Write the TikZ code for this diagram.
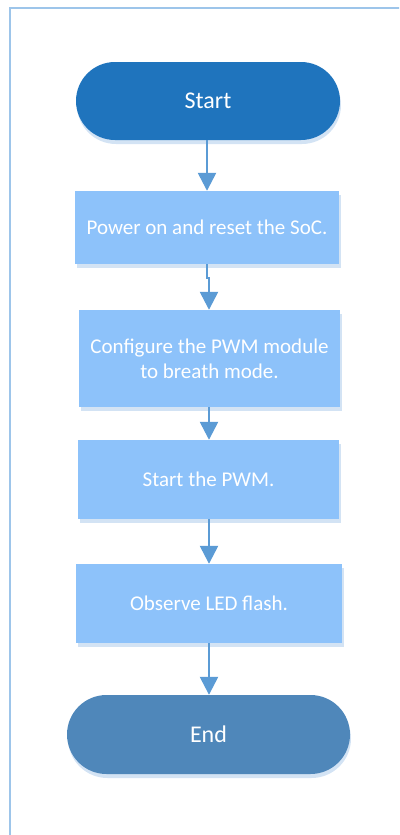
\documentclass[tikz,border=0pt]{standalone}
\usepackage{fontspec}
\setmainfont{Carlito}
\usetikzlibrary{arrows.meta,shadows}
\definecolor{framec}{HTML}{9DC5EA}
\definecolor{startc}{HTML}{1F74BD}
\definecolor{boxc}{HTML}{8DC2FA}
\definecolor{endc}{HTML}{4F87BA}
\definecolor{arrc}{HTML}{5B9BD5}
\definecolor{shadc}{HTML}{D3E3F4}
\tikzset{
  termbox/.style={rectangle, rounded corners=39pt, minimum height=78pt, text=white,
    font=\fontsize{24}{28}\selectfont, inner sep=0pt,
    drop shadow={shadow xshift=1pt, shadow yshift=-4pt, fill=shadc, opacity=1}},
  stepbox/.style={rectangle, fill=boxc, text=white, align=center, inner sep=0pt,
    font=\fontsize{21}{25}\selectfont,
    drop shadow={shadow xshift=2pt, shadow yshift=-4pt, fill=shadc, opacity=1}},
  arr/.style={draw=arrc, line width=2.5pt, -{Triangle[width=18pt,length=18pt]}}
}
\begin{document}
\begin{tikzpicture}[x=1pt,y=-1pt]
\useasboundingbox (0,0) rectangle (399,835);
\clip (0,0) rectangle (399,835);
\draw[framec, line width=2pt] (10,8) rectangle (430,860);
\node[termbox, fill=startc, minimum width=264pt] (start) at (208,101) {Start};
\node[stepbox, minimum width=264pt, minimum height=73pt] (b1) at (207,227.5) {Power on and reset the SoC.};
\node[stepbox, minimum width=261pt, minimum height=97pt] (b2) at (209.5,358.5) {Configure the PWM module\\to breath mode.};
\node[stepbox, minimum width=261pt, minimum height=79pt] (b3) at (208.5,479.5) {Start the PWM.};
\node[stepbox, minimum width=266pt, minimum height=79pt] (b4) at (209,603.5) {Observe LED flash.};
\node[termbox, fill=endc, minimum width=283pt, rounded corners=39.5pt, minimum height=79pt] (end) at (208.5,734.5) {End};
\draw[arr] (start.south -| 207,0) -- (b1.north -| 207,0);
\draw[arr] (b1.south -| 207,0) -- ++(0,14) -| (b2.north -| 209,0);
\draw[arr] (b2.south -| 209,0) -- (b3.north -| 209,0);
\draw[arr] (b3.south -| 209,0) -- (b4.north -| 209,0);
\draw[arr] (b4.south -| 209,0) -- (end.north -| 209,0);
\end{tikzpicture}
\end{document}
